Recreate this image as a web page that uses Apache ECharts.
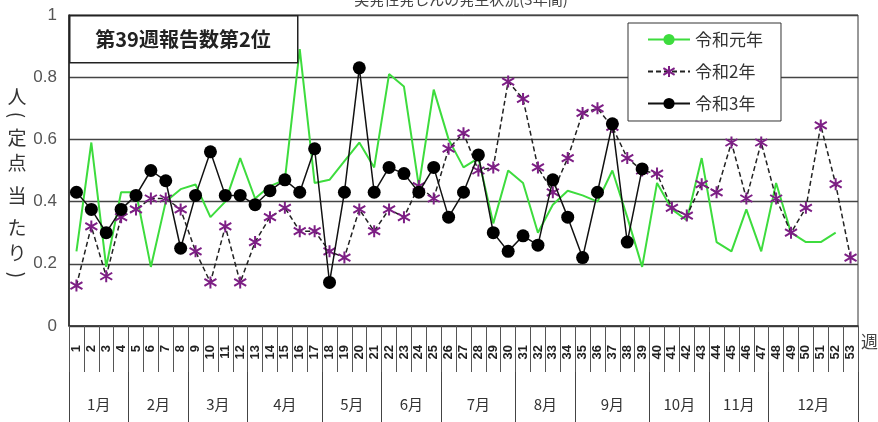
<!DOCTYPE html>
<html>
<head>
<meta charset="utf-8">
<script src="https://cdn.jsdelivr.net/npm/echarts@6/dist/echarts.min.js"></script>
<style>
html,body{margin:0;padding:0;background:#fff;}
#chart{width:878px;height:422px;}
</style>
</head>
<body>
<div id="chart"></div>
<script>
// ---- data ----
const weeks = ['1','2','3','4','5','6','7','8','9','10','11','12','13','14','15','16','17','18','19','20','21','22','23','24','25','26','27','28','29','30','31','32','33','34','35','36','37','38','39','40','41','42','43','44','45','46','47','48','49','50','51','52','53'];
const months = ['1月','2月','3月','4月','5月','6月','7月','8月','9月','10月','11月','12月'];
const monthWeekCounts = [4,4,4,5,4,4,5,4,5,4,4,6];
const yTicks = [0, 0.2, 0.4, 0.6, 0.8, 1];
const seriesNames = ['令和元年','令和2年','令和3年'];
const r1 = [0.24,0.59,0.19,0.43,0.43,0.19,0.40,0.44,0.455,0.35,0.40,0.54,0.41,0.45,0.47,0.89,0.46,0.47,0.53,0.59,0.51,0.81,0.77,0.45,0.76,0.60,0.51,0.54,0.33,0.50,0.46,0.30,0.39,0.435,0.42,0.40,0.50,0.35,0.19,0.46,0.375,0.34,0.54,0.27,0.24,0.375,0.24,0.46,0.30,0.27,0.27,0.30,null];
const r2 = [0.13,0.32,0.16,0.35,0.375,0.41,0.41,0.375,0.24,0.14,0.32,0.14,0.27,0.35,0.38,0.305,0.305,0.24,0.22,0.375,0.305,0.375,0.35,0.45,0.41,0.57,0.62,0.50,0.51,0.786,0.73,0.51,0.43,0.54,0.685,0.70,0.64,0.54,0.50,0.49,0.38,0.355,0.456,0.43,0.59,0.41,0.59,0.41,0.30,0.38,0.645,0.456,0.22];
const r3 = [0.43,0.375,0.30,0.375,0.42,0.50,0.467,0.25,0.42,0.56,0.42,0.42,0.39,0.435,0.47,0.43,0.57,0.14,0.43,0.83,0.43,0.51,0.49,0.43,0.51,0.35,0.43,0.55,0.30,0.24,0.29,0.26,0.47,0.35,0.22,0.43,0.65,0.27,0.505];
const chartTitle = '突発性発しんの発生状況(3年間)';
const boxText = '第39週報告数第2位';
const yNameChars = ['人','(','定','点','当','た','り',')'];

// ---- month axis (half-week points) ----
const monthAxis = new Array(weeks.length * 2 + 1).fill('');
const monthBounds = new Set([0]);
let cum = 0;
months.forEach((m, i) => {
  const c = monthWeekCounts[i];
  monthAxis[2 * cum + c] = m;
  cum += c;
  monthBounds.add(2 * cum);
});

const CJK = '"Noto Sans CJK JP", "Noto Sans", sans-serif';
const chart = echarts.init(document.getElementById('chart'), null, {renderer: 'canvas'});
const asterisk = 'path://M6,0L6,12M0.8,2.5L11.2,9.5M11.2,2.5L0.8,9.5';
const yNameY = [97, 115, 138, 163, 196, 228, 253, 275];

const option = {
  animation: false,
  backgroundColor: '#fff',
  grid: {left: 69, right: 20, top: 15, bottom: 96, show: true, borderColor: '#333', borderWidth: 1, backgroundColor: 'transparent'},
  legend: {
    orient: 'vertical',
    left: 628, top: 23,
    padding: [8, 18, 9, 19],
    itemWidth: 42, itemHeight: 14, itemGap: 15,
    backgroundColor: '#fff',
    borderColor: '#333', borderWidth: 1,
    textStyle: {fontFamily: CJK, fontSize: 17, color: '#333'},
    data: seriesNames
  },
  xAxis: [{
    type: 'category',
    data: weeks,
    boundaryGap: true,
    axisLine: {show: true, lineStyle: {color: '#333', width: 1.5}},
    axisTick: {show: true, interval: 0, length: 46, lineStyle: {color: '#555', width: 1}},
    axisLabel: {interval: 0, rotate: 90, margin: 19, fontSize: 13, fontWeight: 'bold', color: '#222', fontFamily: 'Liberation Sans, Arial, sans-serif'},
    splitLine: {show: false}
  }, {
    type: 'category',
    data: monthAxis,
    boundaryGap: false,
    position: 'bottom',
    offset: 46,
    axisLine: {show: false},
    axisTick: {show: true, interval: (i) => monthBounds.has(i), length: 52, lineStyle: {color: '#444', width: 1}},
    axisLabel: {interval: (i, v) => v !== '', margin: 25, fontSize: 15, color: '#333', fontFamily: CJK},
    splitLine: {show: false}
  }],
  yAxis: {
    type: 'value',
    min: yTicks[0], max: yTicks[yTicks.length - 1], interval: 0.2,
    axisLine: {show: true, lineStyle: {color: '#222', width: 1.5}},
    axisTick: {show: false},
    axisLabel: {margin: 12, fontSize: 17, color: '#555', fontFamily: '"Liberation Sans Narrow", "Liberation Sans", sans-serif',
      formatter: (v) => String(Math.round(v * 10) / 10)},
    splitLine: {show: true, lineStyle: {color: '#444', width: 1.3}}
  },
  series: [{
    name: seriesNames[0], type: 'line', data: r1, xAxisIndex: 0,
    symbol: 'none', showSymbol: false,
    lineStyle: {color: '#3ddc3d', width: 2},
    itemStyle: {color: '#3ddc3d'},
    z: 2
  }, {
    name: seriesNames[1], type: 'line', data: r2, xAxisIndex: 0,
    symbol: asterisk, symbolSize: 12,
    lineStyle: {color: '#222', width: 1.5, type: [5, 3]},
    itemStyle: {color: '#7d1f85', borderColor: '#7d1f85', borderWidth: 2},
    z: 3
  }, {
    name: seriesNames[2], type: 'line', data: r3, xAxisIndex: 0,
    symbol: 'circle', symbolSize: 13,
    lineStyle: {color: '#111', width: 1.5},
    itemStyle: {color: '#000'},
    z: 4
  }],
  graphic: [
    {type: 'rect', left: 69, top: 15, shape: {width: 228, height: 47}, style: {fill: '#fff', stroke: '#222', lineWidth: 1.5}, z: 10},
    {type: 'text', x: 183, y: 39, style: {text: boxText, font: 'bold 20px ' + CJK, fill: '#222', textAlign: 'center', textVerticalAlign: 'middle'}, z: 11},
    {type: 'text', x: 461, y: 7, style: {text: chartTitle, font: '15px ' + CJK, fill: '#444', textAlign: 'center', textVerticalAlign: 'bottom'}, z: 11},
    {type: 'text', x: 861, y: 333, style: {text: '週', font: '17px ' + CJK, fill: '#444'}, z: 11}
  ].concat(yNameChars.map((ch, i) => ({
    type: 'text', x: 17, y: yNameY[i],
    rotation: (ch === '(' || ch === ')') ? -Math.PI / 2 : 0,
    style: {text: ch, font: '19px ' + CJK, fill: '#333', textAlign: 'center', textVerticalAlign: 'middle'}, z: 11
  })))
};
chart.setOption(option);
</script>
</body>
</html>
